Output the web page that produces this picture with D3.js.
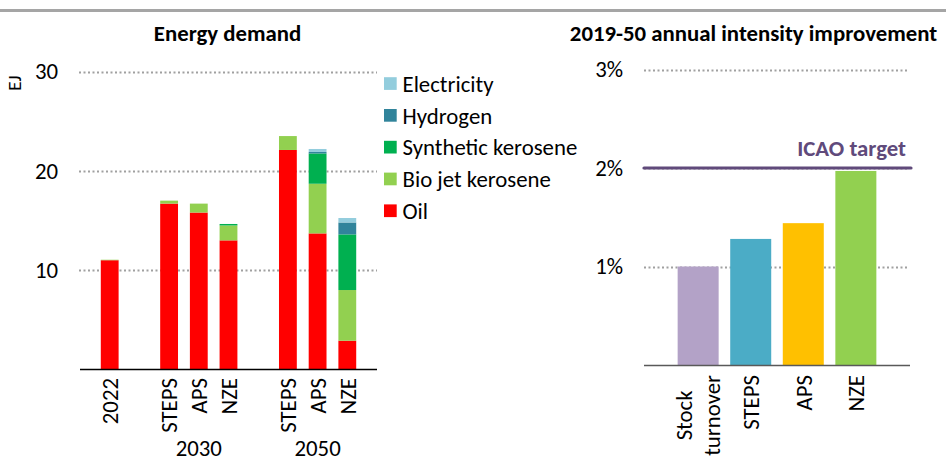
<!DOCTYPE html>
<html>
<head>
<meta charset="utf-8">
<script src="https://cdn.jsdelivr.net/npm/d3@7"></script>
<style>
  body { margin: 0; background: #fff; }
  svg { display: block; font-family: Carlito, Lato, "Open Sans", sans-serif; }
</style>
</head>
<body>
<svg id="chart" width="946" height="461"></svg>
<script>
// ---- Energy demand by fuel (EJ) ----
const barLabels = ["2022", "STEPS", "APS", "NZE", "STEPS", "APS", "NZE"];
const barGroups = ["", "2030", "2030", "2030", "2050", "2050", "2050"];
const oil         = [11.0, 16.7, 15.8, 13.0, 22.1, 13.7, 2.9];
const bioJet      = [0.05, 0.3, 0.9, 1.5, 1.4, 5.0, 5.1];
const synthetic   = [0, 0, 0, 0.15, 0, 3.05, 5.6];
const hydrogen    = [0, 0, 0, 0, 0, 0.15, 1.2];
const electricity = [0, 0, 0, 0, 0, 0.3, 0.45];
const fuelNames  = ["Oil", "Bio jet kerosene", "Synthetic kerosene", "Hydrogen", "Electricity"];
const fuelColors = ["#ff0000", "#92d050", "#00b050", "#31849b", "#93cddd"];
const demandTicks = [10, 20, 30];

// ---- 2019-50 annual intensity improvement (%) ----
const intensityLabels = ["Stock turnover", "STEPS", "APS", "NZE"];
const intensityValues = [1.0, 1.28, 1.44, 1.97];
const intensityColors = ["#b3a2c7", "#4bacc6", "#ffc000", "#92d050"];
const intensityTicks = [1, 2, 3];
const icaoTarget = 2;

const FONT = 22.8;
const svg = d3.select("#chart");

// rule across the top
svg.append("line")
  .attr("x1", 0).attr("x2", 946).attr("y1", 10.5).attr("y2", 10.5)
  .attr("stroke", "#a5a5a5").attr("stroke-width", 3);

function gridDots(g, y, ticks, x0, x1) {
  g.selectAll("line.grid").data(ticks).join("line")
    .attr("class", "grid")
    .attr("x1", x0).attr("x2", x1)
    .attr("y1", d => Math.round(y(d)) + 0.5).attr("y2", d => Math.round(y(d)) + 0.5)
    .attr("stroke", "#a0a0a0").attr("stroke-width", 2)
    .attr("stroke-dasharray", "2 2.5");
}

// axis groups inherit the page font instead of d3's default
function plainAxis(sel) {
  sel.attr("font-family", null).attr("font-size", FONT);
  sel.select(".domain").remove();
  sel.selectAll("text").attr("fill", "#000");
}

// ================= Left panel: energy demand =================
{
  const g = svg.append("g");
  const y = d3.scaleLinear().domain([0, 30]).range([369.5, 71.5]);

  // slots, with an empty slot between groups
  const slots = [];
  barGroups.forEach((grp, i) => {
    if (i > 0 && grp !== barGroups[i - 1]) slots.push("gap" + i);
    slots.push("bar" + i);
  });
  const x = d3.scaleBand().domain(slots).range([80, 377])
    .paddingInner(0.4).paddingOuter(0.7);

  gridDots(g, y, demandTicks, 79, 377);

  const rows = barLabels.map((lab, i) => ({
    key: "bar" + i,
    "Oil": oil[i],
    "Bio jet kerosene": bioJet[i],
    "Synthetic kerosene": synthetic[i],
    "Hydrogen": hydrogen[i],
    "Electricity": electricity[i]
  }));
  const stacked = d3.stack().keys(fuelNames)(rows);
  const color = d3.scaleOrdinal().domain(fuelNames).range(fuelColors);

  g.selectAll("g.series").data(stacked).join("g")
    .attr("class", "series")
    .attr("fill", d => color(d.key))
    .selectAll("rect").data(d => d).join("rect")
      .attr("x", d => x(d.data.key))
      .attr("width", x.bandwidth())
      .attr("y", d => y(d[1]))
      .attr("height", d => Math.max(0, y(d[0]) - y(d[1])));

  // baseline
  g.append("line").attr("x1", 80).attr("x2", 377)
    .attr("y1", 369.5).attr("y2", 369.5)
    .attr("stroke", "#000").attr("stroke-width", 1.6);

  // y axis labels
  const yAxis = d3.axisLeft(y).tickValues(demandTicks).tickSize(0).tickPadding(0);
  g.append("g").attr("transform", "translate(58,0)").call(yAxis).call(plainAxis);

  // x labels (rotated)
  const xAxis = d3.axisBottom(x).tickValues(barLabels.map((_, i) => "bar" + i))
    .tickFormat(k => barLabels[+k.slice(3)]).tickSize(0).tickPadding(0);
  const xa = g.append("g").attr("transform", "translate(0,378)").call(xAxis).call(plainAxis);
  xa.selectAll("text")
    .attr("text-anchor", "end")
    .attr("transform", "rotate(-90)")
    .attr("x", 0).attr("y", 0).attr("dy", "0.36em");

  // group labels
  const groups = Array.from(new Set(barGroups.filter(d => d)));
  groups.forEach(grp => {
    const idx = barGroups.map((d, i) => d === grp ? i : -1).filter(i => i >= 0);
    const mid = idx[Math.floor(idx.length / 2)];
    g.append("text")
      .attr("x", x("bar" + mid) + x.bandwidth() / 2)
      .attr("y", 455.5)
      .attr("text-anchor", "middle")
      .attr("font-size", FONT).attr("fill", "#000")
      .text(grp);
  });

  // unit label
  g.append("text")
    .attr("transform", "translate(21,83) rotate(-90)")
    .attr("text-anchor", "middle")
    .attr("font-size", 19).attr("fill", "#000")
    .text("EJ");

  // title
  g.append("text").attr("x", 227.5).attr("y", 41)
    .attr("text-anchor", "middle").attr("font-size", FONT).attr("font-weight", "bold")
    .attr("fill", "#000").text("Energy demand");

  // legend (top to bottom: electricity first)
  const legendItems = fuelNames.slice().reverse();
  const lg = g.append("g");
  legendItems.forEach((name, i) => {
    const cy = 83.5 + i * 31.8;
    lg.append("rect").attr("x", 384).attr("y", cy - 6.3)
      .attr("width", 12.7).attr("height", 12.7).attr("fill", color(name));
    lg.append("text").attr("x", 402.5).attr("y", cy).attr("dy", "0.36em")
      .attr("font-size", FONT).attr("fill", "#000").text(name);
  });
}

// ================= Right panel: intensity improvement =================
{
  const g = svg.append("g");
  const y = d3.scaleLinear().domain([0, 3]).range([365, 69.5]);
  const x = d3.scaleBand().domain(intensityLabels).range([644, 910])
    .paddingInner(0.22).paddingOuter(0.64);

  gridDots(g, y, intensityTicks, 644, 907);

  g.selectAll("rect.bar").data(intensityLabels).join("rect")
    .attr("class", "bar")
    .attr("x", d => x(d))
    .attr("width", x.bandwidth())
    .attr("y", (d, i) => y(intensityValues[i]))
    .attr("height", (d, i) => y(0) - y(intensityValues[i]))
    .attr("fill", (d, i) => intensityColors[i]);

  // baseline
  g.append("line").attr("x1", 644).attr("x2", 910)
    .attr("y1", 365.5).attr("y2", 365.5)
    .attr("stroke", "#595959").attr("stroke-width", 1.4);

  // ICAO target line
  g.append("line").attr("x1", 644).attr("x2", 911)
    .attr("y1", y(icaoTarget)).attr("y2", y(icaoTarget))
    .attr("stroke", "#604a7b").attr("stroke-width", 3.2).attr("stroke-linecap", "round");
  g.append("text").attr("x", 906).attr("y", 155.5)
    .attr("text-anchor", "end").attr("font-size", FONT).attr("font-weight", "bold")
    .attr("fill", "#604a7b").text("ICAO target");

  // y axis labels
  const yAxis = d3.axisLeft(y).tickValues(intensityTicks).tickFormat(d => d + "%")
    .tickSize(0).tickPadding(0);
  g.append("g").attr("transform", "translate(623,0)").call(yAxis).call(plainAxis);

  // x labels (rotated, multi-line centred on the longest line)
  const top = 375;
  const lineGap = 1.22 * FONT;
  intensityLabels.forEach(label => {
    const parts = label.split(" ");
    const cx = x(label) + x.bandwidth() / 2;
    const t = g.append("text")
      .attr("font-size", FONT).attr("fill", "#000");
    if (parts.length === 1) {
      t.attr("transform", `translate(${cx},${top}) rotate(-90)`)
        .attr("text-anchor", "end").attr("dy", "0.36em").text(label);
    } else {
      const spans = parts.map((p, j) => t.append("tspan")
        .attr("x", 0)
        .attr("y", (j - (parts.length - 1) / 2) * lineGap)
        .attr("dy", "0.36em").text(p));
      const maxLen = d3.max(spans, s => s.node().getComputedTextLength());
      t.attr("text-anchor", "middle")
        .attr("transform", `translate(${cx},${top + maxLen / 2}) rotate(-90)`);
    }
  });

  // title
  g.append("text").attr("x", 753.5).attr("y", 41)
    .attr("text-anchor", "middle").attr("font-size", FONT).attr("font-weight", "bold")
    .attr("fill", "#000").text("2019-50 annual intensity improvement");
}
</script>
</body>
</html>
